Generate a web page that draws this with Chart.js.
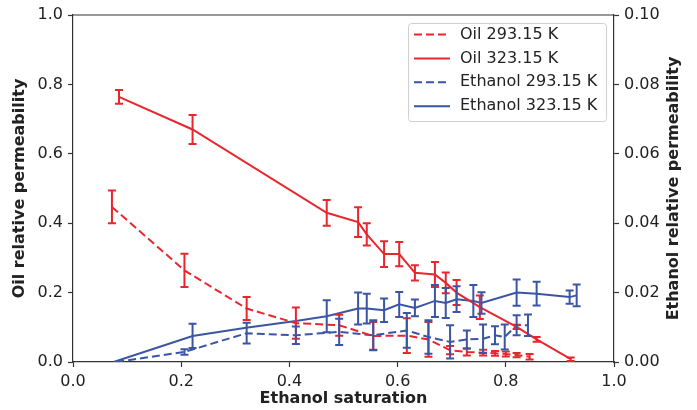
<!DOCTYPE html>
<html>
<head>
<meta charset="utf-8">
<script src="https://cdn.jsdelivr.net/npm/chart.js@4.4.1/dist/chart.umd.min.js"></script>
<style>
  html, body { margin: 0; padding: 0; background: #fff; }
  #wrap { width: 697px; height: 410px; }
</style>
</head>
<body>
<div id="wrap"><canvas id="c"></canvas></div>
<script>
// tick labels
const satTicks = [0, 0.2, 0.4, 0.6, 0.8, 1.0];
const oilTicks = [0, 0.2, 0.4, 0.6, 0.8, 1.0];
const ethTicks = [0, 0.02, 0.04, 0.06, 0.08, 0.10];

// Oil 293.15 K (left axis)
const oilSat293 = [0.072, 0.206, 0.321, 0.412, 0.492, 0.555, 0.617, 0.657, 0.697, 0.728, 0.758, 0.780, 0.800, 0.820, 0.844];
const oilKr293  = [0.447, 0.264, 0.154, 0.112, 0.106, 0.075, 0.076, 0.065, 0.034, 0.029, 0.027, 0.025, 0.023, 0.020, 0.015];
const oilErr293 = [0.047, 0.048, 0.033, 0.045, 0.030, 0.040, 0.050, 0.050, 0.012, 0.010, 0.008, 0.007, 0.007, 0.006, 0.008];

// Oil 323.15 K (left axis)
const oilSat323 = [0.085, 0.221, 0.469, 0.527, 0.543, 0.575, 0.603, 0.632, 0.669, 0.689, 0.709, 0.752, 0.820, 0.857, 0.920];
const oilKr323  = [0.764, 0.670, 0.430, 0.403, 0.368, 0.311, 0.311, 0.257, 0.252, 0.228, 0.200, 0.158, 0.101, 0.065, 0.008];
const oilErr323 = [0.020, 0.042, 0.037, 0.043, 0.032, 0.037, 0.035, 0.022, 0.036, 0.030, 0.036, 0.034, 0.006, 0.007, 0.005];

// Ethanol 293.15 K (right axis)
const ethSat293 = [0.080, 0.206, 0.321, 0.412, 0.492, 0.555, 0.617, 0.657, 0.697, 0.728, 0.758, 0.780, 0.798, 0.820, 0.841];
const ethKr293  = [0.0000, 0.0029, 0.0083, 0.0077, 0.0087, 0.0077, 0.0091, 0.0072, 0.0058, 0.0065, 0.0067, 0.0077, 0.0072, 0.0106, 0.0106];
const ethErr293 = [0, 0.0008, 0.0030, 0.0025, 0.0038, 0.0043, 0.0050, 0.0048, 0.0048, 0.0026, 0.0041, 0.0026, 0.0036, 0.0029, 0.0031];

// Ethanol 323.15 K (right axis)
const ethSat323 = [0.075, 0.221, 0.320, 0.412, 0.469, 0.527, 0.543, 0.575, 0.603, 0.632, 0.669, 0.689, 0.709, 0.740, 0.755, 0.820, 0.857, 0.918, 0.931];
const ethKr323  = [0.0000, 0.0075, 0.0099, 0.0118, 0.0132, 0.0154, 0.0154, 0.0149, 0.0166, 0.0156, 0.0176, 0.0170, 0.0181, 0.0176, 0.0170, 0.0200, 0.0197, 0.0187, 0.0192];
const ethErr323 = [0, 0.0035, 0, 0, 0.0046, 0.0046, 0.0043, 0.0034, 0.0036, 0.0024, 0.0046, 0.0043, 0.0037, 0.0046, 0.0031, 0.0038, 0.0034, 0.0019, 0.0031];

const RED = "#e8262d", BLUE = "#3b55a5", AXIS = "#333", TXT = "#222";
const FONT = "'DejaVu Sans', sans-serif";
const DASH = [8, 4];

const pts = (xs, ys) => xs.map((x, i) => ({ x, y: ys[i] }));
const series = (label, xs, ys, errs, color, dashed, axis) => ({
  label, data: pts(xs, ys), errors: errs, yAxisID: axis,
  borderColor: color, backgroundColor: color, borderWidth: 2,
  borderDash: dashed ? DASH : [], pointRadius: 0, tension: 0, fill: false
});

const datasets = [
  series("Oil 293.15 K", oilSat293, oilKr293, oilErr293, RED, true, "y"),
  series("Oil 323.15 K", oilSat323, oilKr323, oilErr323, RED, false, "y"),
  series("Ethanol 293.15 K", ethSat293, ethKr293, ethErr293, BLUE, true, "y1"),
  series("Ethanol 323.15 K", ethSat323, ethKr323, ethErr323, BLUE, false, "y1")
];

// vertical error bars with caps, clipped to the plot area
const errorBars = {
  id: "errorBars",
  afterDatasetsDraw(chart) {
    const { ctx, chartArea: a } = chart;
    const xs = chart.scales.x;
    ctx.save();
    ctx.beginPath(); ctx.rect(a.left, a.top, a.right - a.left, a.bottom - a.top); ctx.clip();
    chart.data.datasets.forEach(ds => {
      const ys = chart.scales[ds.yAxisID];
      ctx.strokeStyle = ds.borderColor; ctx.lineWidth = 2; ctx.setLineDash([]);
      ds.data.forEach((p, i) => {
        const e = ds.errors[i];
        if (!e) return;
        const px = xs.getPixelForValue(p.x);
        const t = ys.getPixelForValue(p.y + e), b = ys.getPixelForValue(p.y - e);
        ctx.beginPath();
        ctx.moveTo(px, t); ctx.lineTo(px, b);
        ctx.moveTo(px - 4, t); ctx.lineTo(px + 4, t);
        ctx.moveTo(px - 4, b); ctx.lineTo(px + 4, b);
        ctx.stroke();
      });
    });
    ctx.restore();
  }
};

// top spine, right axis title, legend box
const extras = {
  id: "extras",
  afterDraw(chart) {
    const { ctx, chartArea: a } = chart;
    ctx.save();
    ctx.strokeStyle = AXIS; ctx.lineWidth = 1.2;
    ctx.beginPath(); ctx.moveTo(a.left, a.top); ctx.lineTo(a.right, a.top); ctx.stroke();

    ctx.fillStyle = TXT;
    ctx.font = "bold 16px " + FONT;
    ctx.textAlign = "center"; ctx.textBaseline = "middle";
    ctx.translate(674, (a.top + a.bottom) / 2);
    ctx.rotate(-Math.PI / 2);
    ctx.fillText("Ethanol relative permeability", 0, 0);
    ctx.restore();

    // legend
    ctx.save();
    const bx = 408, by = 23, bw = 198, bh = 98;
    ctx.fillStyle = "rgba(255,255,255,0.85)";
    ctx.strokeStyle = "#d0d0d0"; ctx.lineWidth = 1;
    ctx.beginPath(); ctx.roundRect(bx + 0.5, by + 0.5, bw, bh, 3); ctx.fill(); ctx.stroke();
    ctx.font = "16px " + FONT; ctx.textAlign = "left"; ctx.textBaseline = "middle";
    chart.data.datasets.forEach((ds, i) => {
      const yy = 34.5 + i * 23.9;
      ctx.strokeStyle = ds.borderColor; ctx.lineWidth = 2;
      ctx.setLineDash(ds.borderDash);
      ctx.beginPath(); ctx.moveTo(414, yy); ctx.lineTo(450, yy); ctx.stroke();
      ctx.setLineDash([]);
      ctx.fillStyle = TXT;
      ctx.fillText(ds.label, 460, yy);
    });
    ctx.restore();
  }
};

const tickOpts = (fmt) => ({ color: TXT, font: { family: FONT, size: 16 }, padding: 5, callback: v => v.toFixed(fmt) });
const gridOpts = { display: true, drawOnChartArea: false, drawTicks: true, tickLength: 5, tickColor: AXIS, tickWidth: 1.2 };
const borderOpts = { display: true, color: AXIS, width: 1.2 };

new Chart(document.getElementById("c").getContext("2d"), {
  type: "line",
  data: { datasets },
  options: {
    responsive: true, maintainAspectRatio: false, animation: false, devicePixelRatio: 1,
    layout: { padding: { top: 15, left: 0, right: 0, bottom: 0 } },
    plugins: { legend: { display: false }, tooltip: { enabled: false } },
    scales: {
      x: {
        type: "linear", min: 0, max: 1,
        afterBuildTicks: s => { s.ticks = satTicks.map(v => ({ value: v })); },
        ticks: tickOpts(1), grid: gridOpts, border: borderOpts,
        title: { display: true, text: "Ethanol saturation", color: TXT, font: { family: FONT, size: 16, weight: "bold" }, padding: { top: 0, bottom: 2 } },
        afterFit: s => { s.height = 48; }
      },
      y: {
        type: "linear", position: "left", min: 0, max: 1,
        afterBuildTicks: s => { s.ticks = oilTicks.map(v => ({ value: v })); },
        ticks: tickOpts(1), grid: gridOpts, border: borderOpts,
        title: { display: true, text: "Oil relative permeability", color: TXT, font: { family: FONT, size: 16, weight: "bold" }, padding: { top: 10, bottom: 0 } },
        afterFit: s => { s.width = 73; }
      },
      y1: {
        type: "linear", position: "right", min: 0, max: 0.1,
        afterBuildTicks: s => { s.ticks = ethTicks.map(v => ({ value: v })); },
        ticks: tickOpts(2), grid: gridOpts, border: borderOpts,
        afterFit: s => { s.width = 83; }
      }
    }
  },
  plugins: [errorBars, extras]
});
</script>
</body>
</html>
